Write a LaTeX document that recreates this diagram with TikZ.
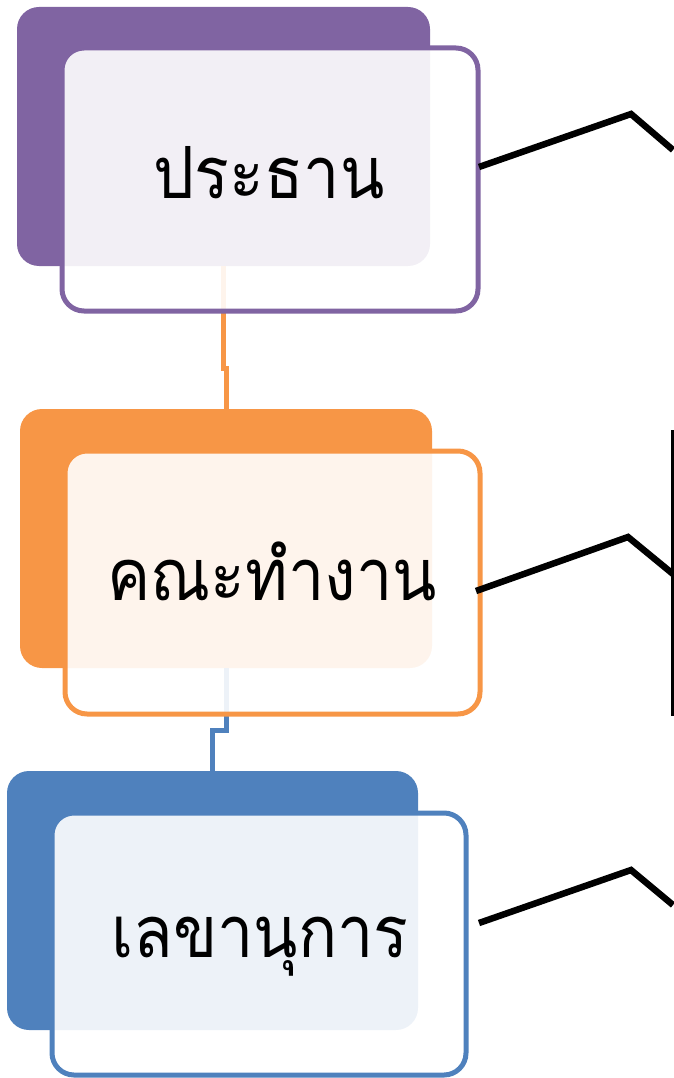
\documentclass[tikz,border=0pt]{standalone}
\usepackage{fontspec}
\newfontfamily\thaifont[Script=Thai,FakeStretch=0.9]{Loma}
\definecolor{cpurple}{HTML}{8064A2}
\definecolor{corange}{HTML}{F79646}
\definecolor{cblue}{HTML}{4F81BD}
\tikzset{
  backbox/.style={rounded corners=22pt, draw=none, minimum width=412pt, minimum height=259pt, inner sep=0pt},
  frontbox/.style={rounded corners=22pt, draw=#1, fill=white, fill opacity=0.9, line width=5pt,
     minimum width=415pt, minimum height=263pt, inner sep=0pt},
  label/.style={anchor=base, inner sep=0pt, font=\thaifont\fontsize{72}{80}\selectfont},
  link/.style={line width=5pt},
  bracket/.style={line width=6.5pt, black, line join=miter},
}
\begin{document}
\begin{tikzpicture}[x=1pt,y=-1pt]
\useasboundingbox (0,0) rectangle (673,1078);
% back boxes
\node[backbox, fill=cpurple, minimum width=413pt] (b1) at (223.5,136.5) {};
\node[backbox, fill=corange] (b2) at (226,538.5) {};
\node[backbox, fill=cblue, minimum width=411pt] (b3) at (212.5,900.5) {};
% connectors
\draw[link, corange] (b1.south) -- (b1.south |- 0,368) -- (b2.north |- 0,368) -- (b2.north);
\draw[link, cblue] (b2.south) -- (b2.south |- 0,730) -- (b3.north |- 0,730) -- (b3.north);
% front boxes
\node[frontbox=cpurple, minimum width=416pt] (f1) at (270,179.5) {};
\node[frontbox=corange] (f2) at (272.5,582.5) {};
\node[frontbox=cblue, minimum width=414pt, minimum height=262pt] (f3) at (259,944) {};
% texts
\node[label] (t1) at (269,198) {ประธาน};
\node[label] (t2) at (272,600) {คณะทำงาน};
\node[label] (t3) at (260,957) {เลขานุการ};
% brackets
\coordinate (s1) at (479,167); \coordinate (p1) at (631,114); \coordinate (e1) at (673,150);
\coordinate (s2) at (476,591); \coordinate (p2) at (628,537); \coordinate (e2) at (673,574);
\coordinate (s3) at (479,923); \coordinate (p3) at (631,870); \coordinate (e3) at (673,905);
\coordinate (v1) at (672,430); \coordinate (v2) at (672,716);
\draw[bracket] (s1) -- (p1) -- (e1);
\draw[bracket] (s2) -- (p2) -- (e2);
\draw[bracket] (s3) -- (p3) -- (e3);
\draw[line width=3pt] (v1) -- (v2);
\end{tikzpicture}
\end{document}
